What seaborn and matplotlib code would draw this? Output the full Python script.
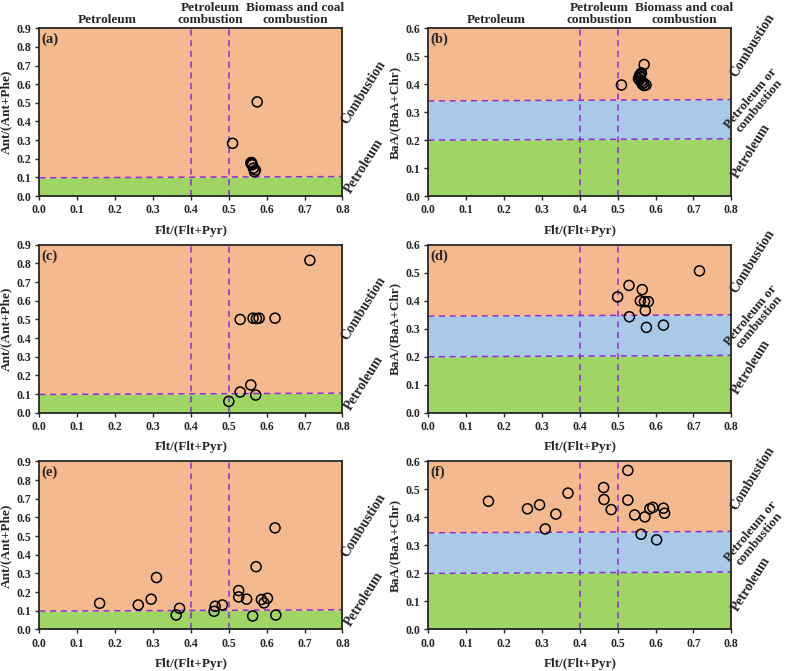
import numpy as np
import pandas as pd
import matplotlib
matplotlib.use("Agg")
import matplotlib.pyplot as plt
import seaborn as sns

# diagnostic ratio data
a_flt = [0.575, 0.510, 0.558, 0.560, 0.562, 0.560, 0.565, 0.570, 0.568]
a_ant = [0.505, 0.283, 0.178, 0.172, 0.168, 0.180, 0.150, 0.140, 0.130]

b_flt = [0.510, 0.570, 0.563, 0.560, 0.558, 0.560, 0.555, 0.558, 0.563, 0.565, 0.570, 0.575, 0.568]
b_baa = [0.397, 0.470, 0.440, 0.435, 0.430, 0.425, 0.420, 0.415, 0.410, 0.400, 0.395, 0.397, 0.405]

c_flt = [0.714, 0.530, 0.564, 0.573, 0.580, 0.622, 0.558, 0.530, 0.571, 0.500]
c_ant = [0.817, 0.500, 0.507, 0.505, 0.507, 0.507, 0.149, 0.111, 0.095, 0.061]

d_flt = [0.716, 0.530, 0.565, 0.500, 0.560, 0.571, 0.581, 0.573, 0.531, 0.576, 0.621]
d_baa = [0.507, 0.455, 0.440, 0.414, 0.400, 0.397, 0.397, 0.365, 0.343, 0.305, 0.313]

e_flt = [0.159, 0.261, 0.295, 0.309, 0.361, 0.370, 0.461, 0.464, 0.483, 0.526,
         0.526, 0.547, 0.572, 0.563, 0.586, 0.593, 0.602, 0.622, 0.624]
e_ant = [0.140, 0.131, 0.162, 0.278, 0.077, 0.113, 0.097, 0.124, 0.131, 0.208,
         0.174, 0.162, 0.336, 0.072, 0.160, 0.142, 0.167, 0.544, 0.077]

f_flt = [0.159, 0.262, 0.294, 0.309, 0.337, 0.369, 0.463, 0.464, 0.483, 0.527,
         0.527, 0.545, 0.562, 0.572, 0.585, 0.593, 0.603, 0.621, 0.624]
f_baa = [0.458, 0.431, 0.445, 0.359, 0.412, 0.487, 0.507, 0.464, 0.428, 0.568,
         0.462, 0.409, 0.340, 0.402, 0.431, 0.436, 0.320, 0.433, 0.415]

# thresholds (left end, right end - the original lines are slightly tilted)
flt_cuts = [0.4, 0.5]
ant_cut = [0.098, 0.105]
baa_low = [0.200, 0.205]
baa_high = {"b": [0.340, 0.345], "d": [0.345, 0.350], "f": [0.345, 0.350]}

orange = "#F5B990"
blue = "#A9C9E9"
green = "#9FD565"
purple = "#8B2FD0"

sns.set_style("ticks")
plt.rcParams["font.family"] = ["Liberation Serif", "DejaVu Serif"]
plt.rcParams["font.weight"] = "bold"
plt.rcParams["axes.labelweight"] = "bold"

fig, axes = plt.subplots(3, 2, figsize=(7.88, 6.71), dpi=100)
fig.subplots_adjust(left=0.050, right=0.928, top=0.958, bottom=0.062,
                    wspace=0.283, hspace=0.29)

xs = [0, 0.8]

def common(ax, tag):
    for xc in flt_cuts:
        ax.axvline(xc, color=purple, ls="--", lw=1.1, dashes=(4, 3), zorder=2)
    ax.set_xlim(0, 0.8)
    ax.set_xticks(np.arange(0, 0.81, 0.1))
    ax.xaxis.set_major_formatter(matplotlib.ticker.FormatStrFormatter("%.1f"))
    ax.yaxis.set_major_formatter(matplotlib.ticker.FormatStrFormatter("%.1f"))
    ax.set_xlabel("Flt/(Flt+Pyr)", fontsize=9.5, labelpad=6)
    ax.tick_params(labelsize=8.5, length=3, width=1, pad=3)
    for sp in ax.spines.values():
        sp.set_visible(True)
        sp.set_linewidth(1.3)
        sp.set_zorder(5)
    ax.text(0.008, 0.975, "(%s)" % tag, transform=ax.transAxes, fontsize=10.5,
            fontweight="bold", ha="left", va="top")

def ant_panel(ax, x, y, tag):
    ax.fill_between(xs, 0, ant_cut, color=green, lw=0, zorder=0)
    ax.fill_between(xs, ant_cut, 0.9, color=orange, lw=0, zorder=0)
    ax.plot(xs, ant_cut, color=purple, ls="--", lw=1.1, dashes=(4, 3), zorder=2)
    sns.scatterplot(x=x, y=y, ax=ax, marker="o", s=52, facecolor="none",
                    edgecolor="black", linewidth=1.1, zorder=4)
    ax.set_ylim(0, 0.9)
    ax.set_yticks(np.arange(0, 0.91, 0.1))
    ax.set_ylabel("Ant/(Ant+Phe)", fontsize=9.5, labelpad=3)
    common(ax, tag)
    ax.text(1.07, 0.62, "Combustion", transform=ax.transAxes, rotation=58,
            fontsize=10, fontweight="bold", ha="center", va="center")
    ax.text(1.07, 0.18, "Petroleum", transform=ax.transAxes, rotation=58,
            fontsize=10, fontweight="bold", ha="center", va="center")

def baa_panel(ax, x, y, tag):
    hi = baa_high[tag]
    ax.fill_between(xs, 0, baa_low, color=green, lw=0, zorder=0)
    ax.fill_between(xs, baa_low, hi, color=blue, lw=0, zorder=0)
    ax.fill_between(xs, hi, 0.6, color=orange, lw=0, zorder=0)
    for yy in (baa_low, hi):
        ax.plot(xs, yy, color=purple, ls="--", lw=1.1, dashes=(4, 3), zorder=2)
    sns.scatterplot(x=x, y=y, ax=ax, marker="o", s=52, facecolor="none",
                    edgecolor="black", linewidth=1.1, zorder=4)
    ax.set_ylim(0, 0.6)
    ax.set_yticks(np.arange(0, 0.61, 0.1))
    ax.set_ylabel("BaA/(BaA+Chr)", fontsize=9.5, labelpad=3)
    common(ax, tag)
    ax.text(1.07, 0.90, "Combustion", transform=ax.transAxes, rotation=58,
            fontsize=10, fontweight="bold", ha="center", va="center")
    ax.text(1.078, 0.56, "Petroleum or\ncombustion", transform=ax.transAxes,
            rotation=50, fontsize=9.5, fontweight="bold", ha="center",
            va="center", linespacing=0.95)
    ax.text(1.065, 0.27, "Petroleum", transform=ax.transAxes, rotation=58,
            fontsize=10, fontweight="bold", ha="center", va="center")

ant_panel(axes[0, 0], a_flt, a_ant, "a")
baa_panel(axes[0, 1], b_flt, b_baa, "b")
ant_panel(axes[1, 0], c_flt, c_ant, "c")
baa_panel(axes[1, 1], d_flt, d_baa, "d")
ant_panel(axes[2, 0], e_flt, e_ant, "e")
baa_panel(axes[2, 1], f_flt, f_baa, "f")

# source regions above the top row
for ax in axes[0]:
    tr = ax.get_xaxis_transform()
    ax.text(0.18, 1.015, "Petroleum", transform=tr,
            fontsize=9.5, fontweight="bold", ha="center", va="bottom")
    ax.text(0.452, 1.015, "Petroleum\ncombustion", transform=tr,
            fontsize=9.5, fontweight="bold", ha="center", va="bottom", linespacing=1.0)
    ax.text(0.676, 1.015, "Biomass and coal\ncombustion", transform=tr,
            fontsize=9.5, fontweight="bold", ha="center", va="bottom", linespacing=1.0)

fig.savefig("out.png", dpi=100)
